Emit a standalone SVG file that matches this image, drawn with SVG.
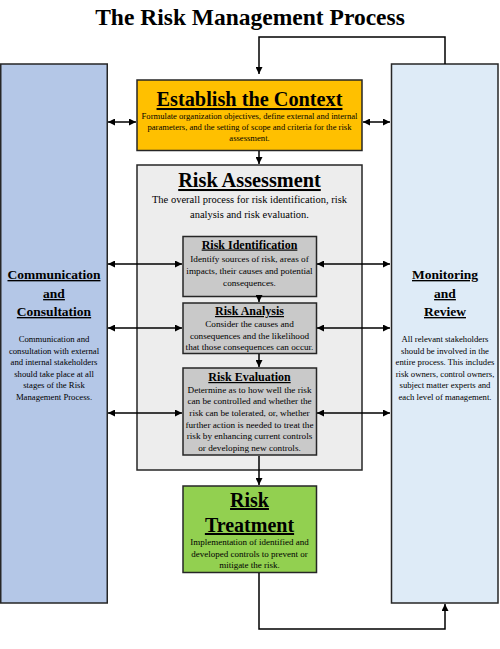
<svg xmlns="http://www.w3.org/2000/svg" width="500" height="649" viewBox="0 0 500 649">
<defs>
<marker id="ah" viewBox="0 0 10 10" refX="10" refY="5" markerWidth="7" markerHeight="7" markerUnits="userSpaceOnUse" orient="auto-start-reverse">
<path d="M0,0 L10,5 L0,10 Z" fill="#000"/>
</marker>
</defs>
<style>
text{font-family:"Liberation Serif","Times New Roman",serif;fill:#000;text-anchor:middle}
.box{stroke:#262626;stroke-width:1.5}
.h{font-weight:bold;text-decoration:underline}
.d{font-size:9.2px}
.s{font-size:8.7px}
.c{fill:none;stroke:#000;stroke-width:1.5}
</style>
<rect width="500" height="649" fill="#fff"/>
<text x="250" y="25" style="font-size:23.5px;font-weight:bold">The Risk Management Process</text>

<g id="communication">
<rect class="box" x="0.75" y="64" width="106.5" height="539" fill="#B4C7E7"/>
<text class="h" x="54" y="279" style="font-size:13.5px">Communication</text>
<text class="h" x="54" y="298" style="font-size:13.5px">and</text>
<text class="h" x="54" y="316" style="font-size:13.5px">Consultation</text>
<text class="s" x="54" y="342">Communication and</text>
<text class="s" x="54" y="353.5">consultation with external</text>
<text class="s" x="54" y="365">and internal stakeholders</text>
<text class="s" x="54" y="376.5">should take place at all</text>
<text class="s" x="54" y="388">stages of the Risk</text>
<text class="s" x="54" y="399.5">Management Process.</text>
</g>

<g id="monitoring">
<rect class="box" x="391.5" y="64" width="106.5" height="539" fill="#DEEBF7"/>
<text class="h" x="445" y="279" style="font-size:13.5px">Monitoring</text>
<text class="h" x="445" y="298" style="font-size:13.5px">and</text>
<text class="h" x="445" y="316" style="font-size:13.5px">Review</text>
<text class="s" x="445" y="342">All relevant stakeholders</text>
<text class="s" x="445" y="353.5">should be involved in the</text>
<text class="s" x="445" y="365">entire process. This includes</text>
<text class="s" x="445" y="376.5">risk owners, control owners,</text>
<text class="s" x="445" y="388">subject matter experts and</text>
<text class="s" x="445" y="399.5">each level of management.</text>
</g>

<g id="establish">
<rect class="box" x="137" y="80" width="225" height="70.5" fill="#FFC000"/>
<text class="h" x="249.5" y="106" style="font-size:20.3px">Establish the Context</text>
<text x="249.5" y="118.5" style="font-size:8.6px">Formulate organization objectives, define external and internal</text>
<text x="249.5" y="129.5" style="font-size:8.6px">parameters, and the setting of scope and criteria for the risk</text>
<text x="249.5" y="140.5" style="font-size:8.6px">assessment.</text>
</g>

<g id="assessment">
<rect class="box" x="137" y="165" width="225" height="305" fill="#EDEDED"/>
<text class="h" x="249.5" y="187" style="font-size:20.3px">Risk Assessment</text>
<text x="249.5" y="203" style="font-size:10.5px">The overall process for risk identification, risk</text>
<text x="249.5" y="218" style="font-size:10.5px">analysis and risk evaluation.</text>
</g>

<g id="identification">
<rect class="box" x="183" y="236.5" width="133.5" height="60" fill="#C9C9C9"/>
<text class="h" x="249.5" y="248.5" style="font-size:12px">Risk Identification</text>
<text class="d" x="249.5" y="262">Identify sources of risk, areas of</text>
<text class="d" x="249.5" y="274">impacts, their causes and potential</text>
<text class="d" x="249.5" y="286">consequences.</text>
</g>

<g id="analysis">
<rect class="box" x="183" y="303" width="133.5" height="50.5" fill="#C9C9C9"/>
<text class="h" x="249.5" y="315" style="font-size:12px">Risk Analysis</text>
<text class="d" x="249.5" y="326.5">Consider the causes and</text>
<text class="d" x="249.5" y="338.5">consequences and the likelihood</text>
<text class="d" x="249.5" y="350">that those consequences can occur.</text>
</g>

<g id="evaluation">
<rect class="box" x="183" y="368" width="133.5" height="87" fill="#C9C9C9"/>
<text class="h" x="249.5" y="381" style="font-size:12px">Risk Evaluation</text>
<text class="d" x="249.5" y="392.5">Determine as to how well the risk</text>
<text class="d" x="249.5" y="404">can be controlled and whether the</text>
<text class="d" x="249.5" y="415.5">risk can be tolerated, or, whether</text>
<text class="d" x="249.5" y="427.5">further action is needed to treat the</text>
<text class="d" x="249.5" y="439">risk by enhancing current controls</text>
<text class="d" x="249.5" y="450.5">or developing new controls.</text>
</g>

<g id="treatment">
<rect class="box" x="183" y="486" width="133.5" height="86.5" fill="#92D050"/>
<text class="h" x="249.5" y="507" style="font-size:20px">Risk </text>
<text class="h" x="249.5" y="532" style="font-size:20px">Treatment</text>
<text x="249.5" y="544.5" style="font-size:9px">Implementation of identified and</text>
<text x="249.5" y="556.5" style="font-size:9px">developed controls to prevent or</text>
<text x="249.5" y="568" style="font-size:9px">mitigate the risk.</text>
</g>

<g id="connectors">
<path class="c" d="M445,64 V37 H259 V74" marker-end="url(#ah)"/>
<path class="c" d="M259,151 V164" marker-end="url(#ah)"/>
<path class="c" d="M259,297 V302" marker-end="url(#ah)"/>
<path class="c" d="M259,354 V367" marker-end="url(#ah)"/>
<path class="c" d="M259,456 V485" marker-end="url(#ah)"/>
<path class="c" d="M259,573 V629 H445 V604" marker-end="url(#ah)"/>
<path class="c" d="M108,122 H136" marker-start="url(#ah)" marker-end="url(#ah)"/>
<path class="c" d="M363,122 H390" marker-start="url(#ah)" marker-end="url(#ah)"/>
<path class="c" d="M108,264 H182" marker-start="url(#ah)" marker-end="url(#ah)"/>
<path class="c" d="M317,264 H390" marker-start="url(#ah)" marker-end="url(#ah)"/>
<path class="c" d="M108,328 H182" marker-start="url(#ah)" marker-end="url(#ah)"/>
<path class="c" d="M317,328 H390" marker-start="url(#ah)" marker-end="url(#ah)"/>
<path class="c" d="M108,413 H182" marker-start="url(#ah)" marker-end="url(#ah)"/>
<path class="c" d="M317,413 H390" marker-start="url(#ah)" marker-end="url(#ah)"/>
</g>
</svg>
